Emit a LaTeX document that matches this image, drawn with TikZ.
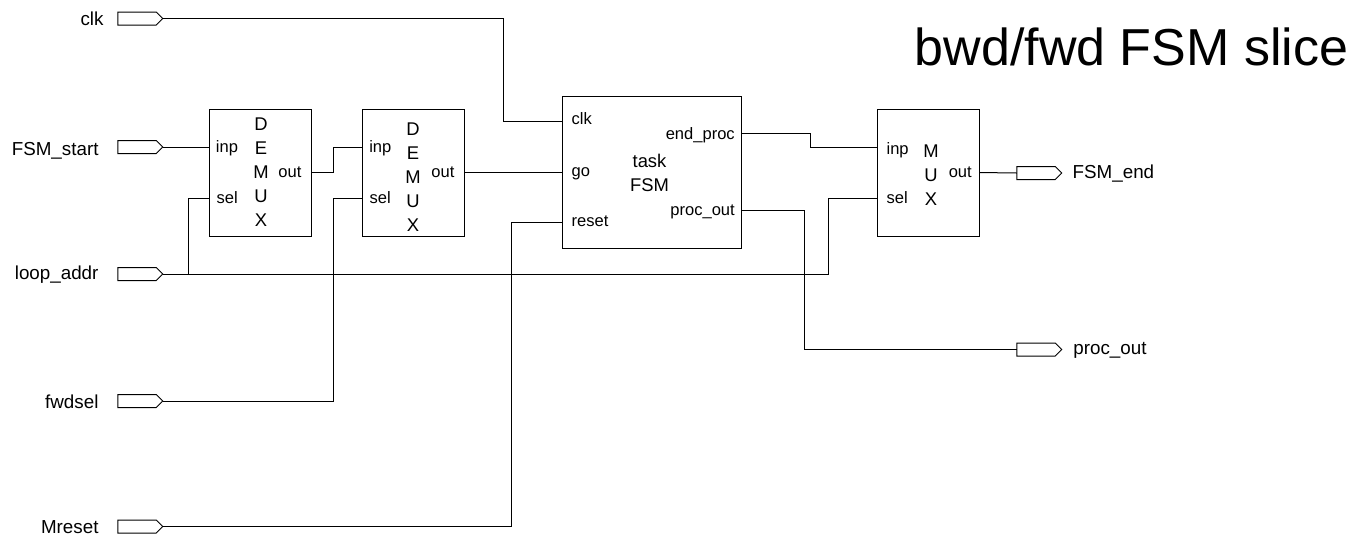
\documentclass[tikz,border=0pt]{standalone}
\usepackage{fontspec}
\setmainfont{Liberation Sans}
\usetikzlibrary{shapes.symbols, positioning}

\begin{document}
\begin{tikzpicture}[
  x=0.75pt, y=-0.75pt,
  blockbox/.style = {
    rectangle, draw=black, line width=0.75pt, outer sep=0pt,
    minimum width=76.5pt, minimum height=95.25pt, inner sep=0pt
  },
  taskbox/.style = {blockbox, minimum width=134.25pt, minimum height=114pt},
  blocktxt/.style = {align=center, inner sep=0pt, font=\fontsize{13.8}{18}\selectfont},
  sigpin/.style = {
    signal, signal to=east, draw=black, line width=0.75pt, outer sep=0pt,
    minimum width=33.75pt, minimum height=9.75pt, inner sep=0pt
  },
  pinlabel/.style = {font=\fontsize{14.1}{16}\selectfont, inner sep=0pt,
    text height=12pt, text depth=0pt},
  portlabel/.style = {font=\fontsize{12.4}{15}\selectfont, inner sep=0pt,
    text height=8pt, text depth=0pt},
  wire/.style = {line width=0.75pt, black}
]
\useasboundingbox (0,0) rectangle (1362,536);

% blocks, all on one centre line
\node[blockbox] (demuxa) at (260,172.5) {};
\node[blockbox, right=38.25pt of demuxa] (demuxb) {};
\node[taskbox, right=73.5pt of demuxb]  (task)   {};
\node[blockbox, right=102pt of task]    (mux)    {};

\node[blocktxt] (demuxatxt) at ([shift={(1,0)}]demuxa.center) {D\\E\\M\\U\\X};
\node[blocktxt] (demuxbtxt) at ([shift={(0,4.5)}]demuxb.center) {D\\E\\M\\U\\X};
\node[blocktxt] (tasktxt)   at ([shift={(-2,0)}]task.center) {task\\FSM};
\node[blocktxt] (muxtxt)    at ([shift={(3,2.5)}]mux.center) {M\\U\\X};

% pins
\node[sigpin] (clkpin)   at (137,18.5)  {};
\node[sigpin] (startpin) at (137,147) {};
\node[sigpin] (looppin)  at (137,274) {};
\node[sigpin] (fwdpin)   at (137,401) {};
\node[sigpin] (resetpin) at (137,526.5) {};
\node[sigpin] (endpin)   at (1036,173) {};
\node[sigpin] (procpin)  at (1036,349.5) {};

\node[pinlabel, left=10.5pt of clkpin, yshift=0.75pt]    (clktxt)   {clk};
\node[pinlabel, left=14.25pt of startpin]                (starttxt) {FSM\_start};
\node[pinlabel, left=14.25pt of looppin, yshift=2.25pt]  (looptxt)  {loop\_addr};
\node[pinlabel, left=14.25pt of fwdpin, yshift=0.75pt]   (fwdtxt)   {fwdsel};
\node[pinlabel, left=14.25pt of resetpin, yshift=1pt]    (resettxt) {Mreset};
\node[pinlabel, right=8pt of endpin, yshift=1.9pt]       (endtxt)   {FSM\_end};
\node[pinlabel, right=8.5pt of procpin, yshift=2.25pt]   (proctxt)  {proc\_out};

% port positions on the block edges
\coordinate (ainp)  at ([shift={(0,-25.5)}]demuxa.west);
\coordinate (asel)  at ([shift={(0,25.5)}]demuxa.west);
\coordinate (aout)  at (demuxa.east);
\coordinate (binp)  at ([shift={(0,-25.5)}]demuxb.west);
\coordinate (bsel)  at ([shift={(0,25.5)}]demuxb.west);
\coordinate (bout)  at (demuxb.east);
\coordinate (tclk)  at ([shift={(0,-51)}]task.west);
\coordinate (tgo)   at (task.west);
\coordinate (treset) at ([shift={(0,50)}]task.west);
\coordinate (tend)  at ([shift={(0,-39)}]task.east);
\coordinate (tproc) at ([shift={(0,38)}]task.east);
\coordinate (minp)  at ([shift={(0,-25.5)}]mux.west);
\coordinate (msel)  at ([shift={(0,25.5)}]mux.west);
\coordinate (mout)  at (mux.east);

\node[portlabel, right=5pt of ainp]    (ainptxt)  {inp};
\node[portlabel, right=5.5pt of asel]  (aseltxt)  {sel};
\node[portlabel, left=7pt of aout]     (aouttxt)  {out};
\node[portlabel, right=5.25pt of binp] (binptxt)  {inp};
\node[portlabel, right=5.5pt of bsel]  (bseltxt)  {sel};
\node[portlabel, left=7pt of bout]     (bouttxt)  {out};
\node[portlabel, right=7pt of tclk, yshift=1.5pt]   (tclktxt)  {clk};
\node[portlabel, right=7pt of tgo, yshift=1pt]      (tgotxt)   {go};
\node[portlabel, right=7pt of treset, yshift=1pt]   (tresettxt) {reset};
\node[portlabel, left=4.5pt of tend, yshift=-0.75pt]  (tendtxt)  {end\_proc};
\node[portlabel, left=4.5pt of tproc]  (tproctxt) {proc\_out};
\node[portlabel, right=7pt of minp, yshift=-1.5pt]  (minptxt)  {inp};
\node[portlabel, right=7pt of msel]    (mseltxt)  {sel};
\node[portlabel, left=5.25pt of mout]  (mouttxt)  {out};

\node[anchor=base, font=\fontsize{39}{44}\selectfont, inner sep=0pt] (title)
  at (1131.5,65) {bwd/fwd FSM slice};

% wires
\draw[wire] (clkpin.east)   -- ++(341,0) |- (tclk);
\draw[wire] (startpin.east) -- (ainp);
\draw[wire] (looppin.east)  -- ++(666,0) |- (msel);
\draw[wire] (looppin.east)  -- ++(26,0) |- (asel);
\draw[wire] (fwdpin.east)   -- ++(171,0) |- (bsel);
\draw[wire] (resetpin.east) -- ++(349,0) |- (treset);
\draw[wire] (aout) -- ++(22,0) |- (binp);
\draw[wire] (bout) -- (tgo);
\draw[wire] (tend) -- ++(69,0) |- (minp);
\draw[wire] (tproc) -- ++(63,0) |- (procpin.west);
\draw[wire] (mout) -- (endpin.west);
\end{tikzpicture}
\end{document}
